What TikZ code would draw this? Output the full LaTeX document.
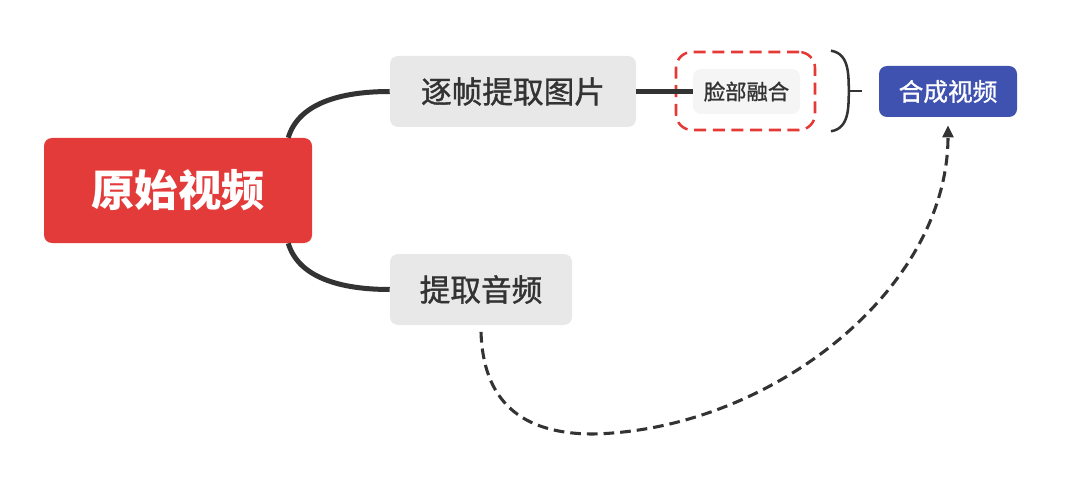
\documentclass[tikz,border=0pt]{standalone}
\usepackage{fontspec}
\newfontfamily\cjk{Noto Sans CJK SC}
\newfontfamily\cjkmed[FakeBold=1.2]{Noto Sans CJK SC}
\usetikzlibrary{arrows.meta}
\definecolor{redbox}{HTML}{E33B3A}
\definecolor{graybox}{HTML}{E8E8E8}
\definecolor{lightbox}{HTML}{F5F5F5}
\definecolor{bluebox}{HTML}{3F52B0}
\definecolor{darkline}{HTML}{333333}
\definecolor{dashred}{HTML}{E53935}
\tikzset{
  rootbox/.style={fill=redbox, rounded corners=6pt, text=white, font=\cjk\bfseries\fontsize{32.5}{36}\selectfont, inner sep=0pt},
  topicbox/.style={fill=graybox, rounded corners=6pt, text=darkline, font=\cjkmed\fontsize{23}{26}\selectfont, inner sep=0pt},
  subbox/.style={fill=lightbox, rounded corners=6pt, text=darkline, font=\cjkmed\fontsize{16}{19}\selectfont, inner sep=0pt},
  resultbox/.style={fill=bluebox, rounded corners=6pt, text=white, font=\cjkmed\fontsize{18.5}{21}\selectfont, inner sep=0pt},
  boundary/.style={draw=dashred, dash pattern=on 9pt off 5pt, line width=1.9pt, rounded corners=12pt, inner sep=0pt},
  branch/.style={draw=darkline, line width=3.75pt},
  bracketline/.style={draw=darkline, line width=1.9pt},
  audioarrow/.style={draw=darkline, line width=2.3pt, dash pattern=on 8pt off 4.5pt, -{Triangle[length=9pt,width=8pt]}}
}
\begin{document}
\begin{tikzpicture}[x=0.75pt, y=-0.75pt]
\useasboundingbox (0,0) rectangle (1080,477);
% nodes
\node[rootbox, minimum width=201pt, minimum height=78.75pt] (orig) at (178,190.5) {原始视频};
\node[topicbox, minimum width=184.5pt, minimum height=53.25pt] (frames) at (513,91.5) {逐帧提取图片};
\node[topicbox, minimum width=136.5pt, minimum height=53.25pt] (audio) at (481,289.5) {提取音频};
\node[boundary, minimum width=104.25pt, minimum height=58.5pt] (bound) at (745.5,91) {};
\node[subbox, minimum width=80.25pt, minimum height=33.75pt] (face) at (746.5,91.5) {脸部融合};
\node[resultbox, minimum width=103.5pt, minimum height=38.25pt] (result) at (948,91.5) {合成视频};
% connectors
\coordinate (o1) at ([xshift=-18pt]orig.north east);
\coordinate (o2) at ([xshift=-18pt]orig.south east);
\draw[branch] (o1) .. controls +(10,-34) and +(-50,0) .. (frames.west);
\draw[branch] (o2) .. controls +(10,34) and +(-50,0) .. (audio.west);
\draw[branch] (frames.east) -- (face.west);
% bracket
\coordinate (bt) at ([xshift=11pt]bound.north east);
\coordinate (bb) at ([xshift=11pt]bound.south east);
\coordinate (bm) at (849,91);
\coordinate (bk) at (862,91);
\draw[bracketline] (bt) .. controls +(20,3) and +(-1,-12) .. (bm) .. controls +(-1,12) and +(20,-3) .. (bb);
\draw[bracketline] (bm) -- (bk);
% audio arrow
\coordinate (a1) at ([yshift=-5pt]audio.south);
\coordinate (a2) at (593,434);
\coordinate (a3) at ([yshift=-6pt]result.south);
\draw[audioarrow] (a1) .. controls (483,400) and (520,434) .. (a2) .. controls (770,430) and (948,290) .. (a3);
\end{tikzpicture}
\end{document}
